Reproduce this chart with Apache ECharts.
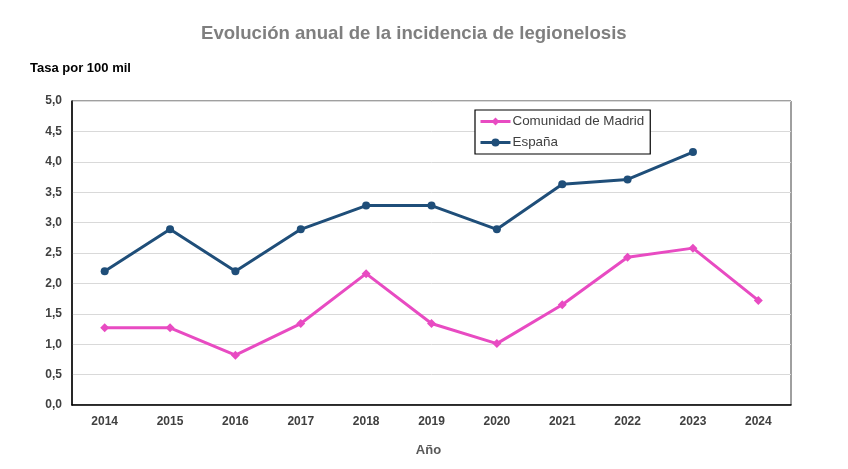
<!DOCTYPE html>
<html>
<head>
	<meta charset="utf-8">
	<title>Legionelosis</title>
	<script src="https://cdn.jsdelivr.net/npm/echarts@6/dist/echarts.min.js"></script>
	<style type="text/css">
		body{ margin:0; background:#fff; }
		#main{ width:848px; height:469px; }
	</style>
</head>
<body>
	<div id="main"></div>
	<script type="text/javascript">
		var years = ['2014','2015','2016','2017','2018','2019','2020','2021','2022','2023','2024'];
		var madrid = [1.27, 1.27, 0.82, 1.34, 2.16, 1.34, 1.01, 1.65, 2.43, 2.58, 1.72];
		var espana = [2.20, 2.89, 2.20, 2.89, 3.28, 3.28, 2.89, 3.63, 3.71, 4.16, null];

		var myChart = echarts.init(document.getElementById('main'));
		var font = 'Liberation Sans, Arial, sans-serif';
		var option = {
			animation:false,
			title:{
				text:'Evolución anual de la incidencia de legionelosis',
				left:196,
				top:19,
				textStyle:{ color:'#7f7f7f', fontSize:18.6, fontWeight:'bold', fontFamily:font }
			},
			grid:{
				left:72, right:57, top:101, bottom:64,
				show:true, borderColor:'#404040', borderWidth:1
			},
			legend:{
				left:475, top:110,
				orient:'vertical',
				itemWidth:30, itemHeight:10, itemGap:8,
				padding:[5,6,5,4],
				borderColor:'#000', borderWidth:1.2,
				borderRadius:0,
				backgroundColor:'#fff',
				lineStyle:{ width:3 },
				textStyle:{ color:'#404040', fontSize:13.4, fontFamily:font, padding:[0,0,0,-3] },
				data:['Comunidad de Madrid','España']
			},
			xAxis:{
				type:'category',
				data:years,
				name:'Año',
				nameLocation:'middle',
				nameGap:39,
				nameTextStyle:{ color:'#595959', fontSize:13, fontWeight:'bold', fontFamily:font, padding:[0,6,0,0] },
				axisLine:{ lineStyle:{ color:'#000', width:1.5 } },
				axisTick:{ show:false },
				axisLabel:{ color:'#404040', fontSize:12, fontWeight:'bold', fontFamily:font, margin:11 }
			},
			yAxis:{
				type:'value',
				min:0, max:5, interval:0.5,
				name:'Tasa por 100 mil',
				nameLocation:'end',
				nameGap:26,
				nameTextStyle:{ color:'#000', fontSize:13, fontWeight:'bold', fontFamily:font, align:'left', padding:[0,0,0,-42] },
				axisLine:{ show:true, lineStyle:{ color:'#000', width:1.5 } },
				axisTick:{ show:false },
				splitLine:{ lineStyle:{ color:'#d9d9d9', width:1 } },
				axisLabel:{
					color:'#404040', fontSize:12, fontWeight:'bold', fontFamily:font, margin:10,
					formatter:function(v){ return v.toFixed(1).replace('.', ','); }
				}
			},
			series:[
				{
					name:'Comunidad de Madrid',
					type:'line',
					data:madrid,
					symbol:'diamond',
					symbolSize:9,
					lineStyle:{ color:'#e84bc2', width:3 },
					itemStyle:{ color:'#e84bc2' }
				},
				{
					name:'España',
					type:'line',
					data:espana,
					symbol:'circle',
					symbolSize:8,
					lineStyle:{ color:'#1f4e79', width:3 },
					itemStyle:{ color:'#1f4e79' }
				}
			]
		};
		myChart.setOption(option);
	</script>
</body>
</html>
